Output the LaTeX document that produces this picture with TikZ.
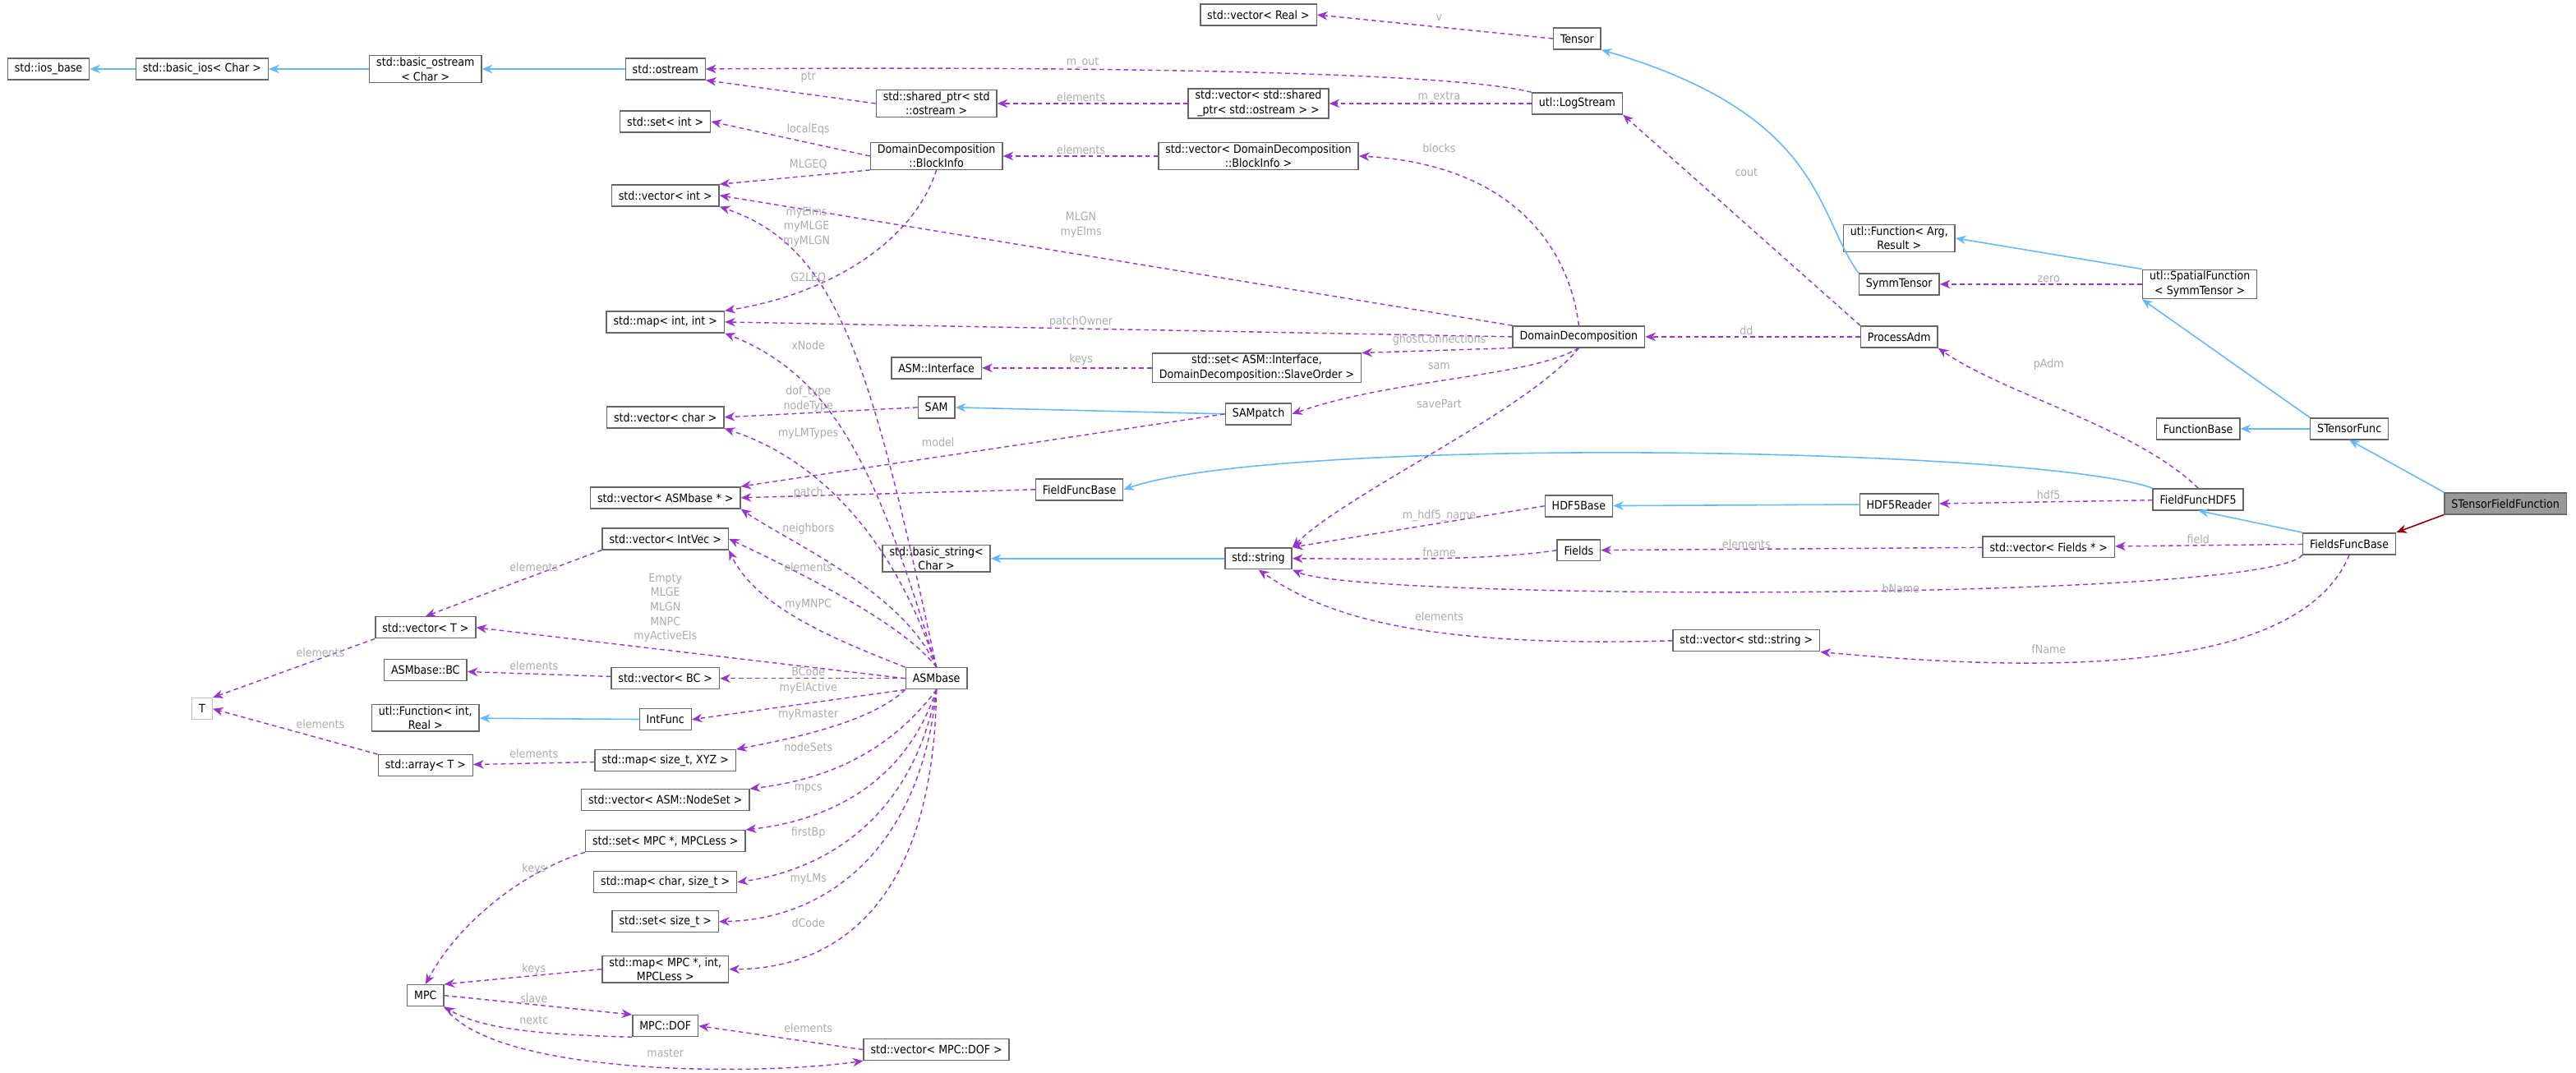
\documentclass[tikz,border=0pt]{standalone}
\usepackage{fontspec}
\setmainfont{DejaVu Sans Condensed}
\usetikzlibrary{arrows.meta}
\definecolor{member}{HTML}{9A32CD}
\definecolor{inherit}{HTML}{63B8FF}
\definecolor{lblgrey}{HTML}{ABABAB}
\tikzset{
  box/.style={draw=black!60, fill=white, line width=0.4pt, inner xsep=2.4pt, inner ysep=0.6pt,
    minimum height=0.26cm, align=center, font=\fontsize{4.0}{5.0}\selectfont},
  lbl/.style={text=lblgrey, align=center, inner sep=0pt, font=\fontsize{4.0}{5.0}\selectfont},
  mem/.style={draw=member, dash pattern=on 1.6pt off 1.2pt, line width=0.4pt,
    -{Stealth[length=3.6pt,width=3pt]}},
  inh/.style={draw=inherit, line width=0.45pt, -{Stealth[length=3.6pt,width=3pt]}},
  red/.style={draw=red!55!black, line width=0.45pt, -{Stealth[length=3.6pt,width=3pt]}}
}
\begin{document}
\begin{tikzpicture}[x=0.02cm, y=-0.02cm]
  \useasboundingbox (0,0) rectangle (1568,653);
  % left column
  \node[box] (iosbase) at (29.5,42) {std::ios\_base};
  \node[box] (basicios) at (123,42) {std::basic\_ios\textless{} Char \textgreater{}};
  \node[box] (basicostream) at (259,42) {std::basic\_ostream\\\textless{} Char \textgreater{}};
  \node[box] (ostream) at (405,42) {std::ostream};
  \node[box] (setint) at (405,74) {std::set\textless{} int \textgreater{}};
  \node[box] (vecint) at (405,119) {std::vector\textless{} int \textgreater{}};
  \node[box] (mapint) at (405,196) {std::map\textless{} int, int \textgreater{}};
  \node[box] (vecchar) at (405,254) {std::vector\textless{} char \textgreater{}};
  \node[box] (vecasm) at (405,303) {std::vector\textless{} ASMbase * \textgreater{}};
  \node[box] (vecintvec) at (405,328) {std::vector\textless{} IntVec \textgreater{}};
  \node[box] (vect) at (259,382) {std::vector\textless{} T \textgreater{}};
  \node[box] (asmbc) at (259,408) {ASMbase::BC};
  \node[box, draw=black!25] (T) at (123,431.5) {T};
  \node[box] (funcint) at (259,437) {utl::Function\textless{} int,\\Real \textgreater{}};
  \node[box] (arrt) at (259,466) {std::array\textless{} T \textgreater{}};
  \node[box] (vecbc) at (405,413) {std::vector\textless{} BC \textgreater{}};
  \node[box] (intfunc) at (405,438) {IntFunc};
  \node[box] (mapxyz) at (405,463) {std::map\textless{} size\_t, XYZ \textgreater{}};
  \node[box] (vecnodeset) at (405,487) {std::vector\textless{} ASM::NodeSet \textgreater{}};
  \node[box] (setmpc) at (405,512) {std::set\textless{} MPC *, MPCLess \textgreater{}};
  \node[box] (mapchar) at (405,537) {std::map\textless{} char, size\_t \textgreater{}};
  \node[box] (setsize) at (405,561) {std::set\textless{} size\_t \textgreater{}};
  \node[box] (mapmpc) at (405,590) {std::map\textless{} MPC *, int,\\MPCLess \textgreater{}};
  \node[box] (mpc) at (259,606) {MPC};
  \node[box] (mpcdof) at (405,624.5) {MPC::DOF};
  \node[box] (vecmpcdof) at (570,639) {std::vector\textless{} MPC::DOF \textgreater{}};
  % middle column
  \node[box] (sharedptr) at (570,63) {std::shared\_ptr\textless{} std\\::ostream \textgreater{}};
  \node[box] (blockinfo) at (570,95) {DomainDecomposition\\::BlockInfo};
  \node[box] (asminterface) at (570,224) {ASM::Interface};
  \node[box] (sam) at (570,248) {SAM};
  \node[box] (asmbase) at (570,413) {ASMbase};
  \node[box] (basicstring) at (570,340) {std::basic\_string\textless{}\\Char \textgreater{}};
  \node[box] (vecreal) at (766,9) {std::vector\textless{} Real \textgreater{}};
  \node[box] (vecshared) at (766,63) {std::vector\textless{} std::shared\\\_ptr\textless{} std::ostream \textgreater{} \textgreater{}};
  \node[box] (vecblockinfo) at (766,95) {std::vector\textless{} DomainDecomposition\\::BlockInfo \textgreater{}};
  \node[box] (setinterface) at (765,224) {std::set\textless{} ASM::Interface,\\DomainDecomposition::SlaveOrder \textgreater{}};
  \node[box] (sampatch) at (766,252) {SAMpatch};
  \node[box] (ffbase) at (657,298) {FieldFuncBase};
  \node[box] (string) at (766,340) {std::string};
  \node[box] (tensor) at (960,23.5) {Tensor};
  \node[box] (logstream) at (960,63) {utl::LogStream};
  \node[box] (dd) at (961,205) {DomainDecomposition};
  \node[box] (hdf5base) at (961,308) {HDF5Base};
  \node[box] (fields) at (961,335) {Fields};
  \node[box] (vecstring) at (1063,390) {std::vector\textless{} std::string \textgreater{}};
  % right column
  \node[box] (funcarg) at (1156,145) {utl::Function\textless{} Arg,\\Result \textgreater{}};
  \node[box] (symmtensor) at (1156,173) {SymmTensor};
  \node[box] (procadm) at (1156,205) {ProcessAdm};
  \node[box] (hdf5reader) at (1156,307) {HDF5Reader};
  \node[box] (vecfields) at (1247,333) {std::vector\textless{} Fields * \textgreater{}};
  \node[box] (spatial) at (1339,173) {utl::SpatialFunction\\\textless{} SymmTensor \textgreater{}};
  \node[box] (funcbase) at (1338,261) {FunctionBase};
  \node[box] (ffhdf5) at (1338,304) {FieldFuncHDF5};
  \node[box] (stensorfunc) at (1430,261) {STensorFunc};
  \node[box] (ffsbase) at (1430,331) {FieldsFuncBase};
  \node[box, fill=black!40] (stff) at (1525,306.5) {STensorFieldFunction};
  % inheritance
  \draw[inh] (basicios) -- (iosbase);
  \draw[inh] (basicostream) -- (basicios);
  \draw[inh] (ostream) -- (basicostream);
  \draw[inh] (intfunc) -- (funcint);
  \draw[inh] (sampatch.west) -- (sam.east);
  \draw[inh] (string) -- (basicstring);
  \draw[inh] (hdf5reader) -- (hdf5base);
  \draw[inh] (symmtensor.north west) .. controls (1105,130) and (1110,70) .. (tensor.south east);
  \draw[inh] (spatial.north west) -- (funcarg.east);
  \draw[inh] (stensorfunc.north west) -- (spatial.south west);
  \draw[inh] (stensorfunc) -- (funcbase);
  \draw[inh] (stff.north west) -- (stensorfunc.south);
  \draw[inh] (ffsbase.north west) -- (ffhdf5.south);
  \draw[inh] (ffhdf5.north west) .. controls (1240,272) and (780,265) .. (ffbase.east);
  \draw[red] (stff.south west) -- (ffsbase.north east);
  % members
  \draw[mem] (tensor.west) -- (vecreal.east);
  \node[lbl] (lv) at (876,11) {v};
  \draw[mem] (logstream.north west) .. controls (890,45) and (700,40) .. (ostream.east);
  \node[lbl] (lmout) at (659,38) {m\_out};
  \draw[mem] (logstream) -- (vecshared);
  \node[lbl] (lmextra) at (876,59) {m\_extra};
  \draw[mem] (vecshared) -- (sharedptr);
  \node[lbl] (lel1) at (658,59) {elements};
  \draw[mem] (sharedptr.west) -- (ostream.south east);
  \node[lbl] (lptr) at (492,47) {ptr};
  \draw[mem] (blockinfo.west) -- (setint.east);
  \node[lbl] (llocaleqs) at (492,79) {localEqs};
  \draw[mem] (blockinfo.south west) -- (vecint.north east);
  \node[lbl] (lmlgeq) at (492,100) {MLGEQ};
  \draw[mem] (blockinfo.south) .. controls (555,150) and (500,180) .. (mapint.north east);
  \node[lbl] (lg2leq) at (492,169) {G2LEQ};
  \draw[mem] (vecblockinfo) -- (blockinfo);
  \node[lbl] (lel2) at (658,91) {elements};
  \draw[mem] (dd.north) .. controls (955,150) and (920,100) .. (vecblockinfo.east);
  \node[lbl] (lblocks) at (876,90) {blocks};
  \draw[mem] (dd.north west) -- (vecint.east);
  \node[lbl] (lmlgn) at (658,137) {MLGN\\myElms};
  \draw[mem] (dd.west) -- (mapint.east);
  \node[lbl] (lpatchowner) at (658,196) {patchOwner};
  \draw[mem] (dd.south west) -- (setinterface.north east);
  \node[lbl] (lghost) at (876,207) {ghostConnections};
  \draw[mem] (dd.south) .. controls (930,230) and (850,230) .. (sampatch.east);
  \node[lbl] (lsam) at (876,223) {sam};
  \draw[mem] (dd.south) .. controls (930,250) and (820,300) .. (string.north east);
  \node[lbl] (lsavepart) at (876,246) {savePart};
  \draw[mem] (setinterface) -- (asminterface);
  \node[lbl] (lkeys1) at (658,219) {keys};
  \draw[mem] (procadm) -- (dd);
  \node[lbl] (ldd) at (1063,201) {dd};
  \draw[mem] (procadm.north west) -- (logstream.south east);
  \node[lbl] (lcout) at (1063,105) {cout};
  \draw[mem] (spatial) -- (symmtensor);
  \node[lbl] (lzero) at (1247,170) {zero};
  \draw[mem] (ffhdf5.north) .. controls (1300,260) and (1220,240) .. (procadm.south east);
  \node[lbl] (lpadm) at (1247,222) {pAdm};
  \draw[mem] (ffhdf5) -- (hdf5reader);
  \node[lbl] (lhdf5) at (1247,301) {hdf5};
  \draw[mem] (hdf5base.west) -- (string.north east);
  \node[lbl] (lhdf5name) at (876,314) {m\_hdf5\_name};
  \draw[mem] (fields.west) .. controls (900,342) and (830,340) .. (string.east);
  \node[lbl] (lfname) at (876,336) {fname};
  \draw[mem] (vecfields) -- (fields);
  \node[lbl] (lel3) at (1063,331) {elements};
  \draw[mem] (ffsbase) -- (vecfields);
  \node[lbl] (lfield) at (1338,328) {field};
  \draw[mem] (ffsbase.south west) .. controls (1380,366) and (830,366) .. (string.south east);
  \node[lbl] (lbname) at (1157,358) {bName};
  \draw[mem] (ffsbase.south) .. controls (1400,410) and (1250,410) .. (vecstring.south east);
  \node[lbl] (lfname2) at (1247,395) {fName};
  \draw[mem] (vecstring.west) .. controls (850,395) and (800,370) .. (string.south);
  \node[lbl] (lel4) at (876,375) {elements};
  \draw[mem] (sam.west) -- (vecchar.east);
  \node[lbl] (ldoftype) at (492,243) {dof\_type\\nodeType};
  \draw[mem] (sampatch.west) -- (vecasm.north east);
  \node[lbl] (lmodel) at (571,269) {model};
  \draw[mem] (ffbase.west) -- (vecasm.east);
  \node[lbl] (lpatch) at (492,300) {patch};
  % ASMbase members
  \draw[mem] (asmbase.north) .. controls (530,220) and (510,150) .. (vecint.south east);
  \node[lbl] (lmyelms) at (491,138) {myElms\\myMLGE\\myMLGN};
  \draw[mem] (asmbase.north) .. controls (535,290) and (510,230) .. (mapint.south east);
  \node[lbl] (lxnode) at (492,210) {xNode};
  \draw[mem] (asmbase.north) .. controls (545,330) and (500,280) .. (vecchar.south east);
  \node[lbl] (lmylmtypes) at (492,264) {myLMTypes};
  \draw[mem] (asmbase.north) .. controls (550,360) and (480,330) .. (vecasm.south east);
  \node[lbl] (lneighbors) at (492,322) {neighbors};
  \draw[mem] (asmbase.north) .. controls (550,380) and (490,350) .. (vecintvec.east);
  \node[lbl] (lel5) at (492,345) {elements};
  \draw[mem] (asmbase.north west) .. controls (510,390) and (460,370) .. (vecintvec.south east);
  \node[lbl] (lmymnpc) at (492,368) {myMNPC};
  \draw[mem] (asmbase.west) -- (vect.east);
  \node[lbl] (lempty) at (405,370) {Empty\\MLGE\\MLGN\\MNPC\\myActiveEls};
  \draw[mem] (asmbase) -- (vecbc);
  \node[lbl] (lbcode) at (492,409) {BCode};
  \draw[mem] (asmbase.south west) -- (intfunc.east);
  \node[lbl] (lmyelactive) at (492,419) {myElActive};
  \draw[mem] (asmbase.south west) .. controls (530,440) and (480,450) .. (mapxyz.north east);
  \node[lbl] (lmyrmaster) at (492,435) {myRmaster};
  \draw[mem] (asmbase.south) .. controls (540,460) and (500,475) .. (vecnodeset.north east);
  \node[lbl] (lnodesets) at (492,455) {nodeSets};
  \draw[mem] (asmbase.south) .. controls (550,480) and (500,500) .. (setmpc.north east);
  \node[lbl] (lmpcs) at (492,480) {mpcs};
  \draw[mem] (asmbase.south) .. controls (555,500) and (500,530) .. (mapchar.east);
  \node[lbl] (lfirstbp) at (492,507) {firstBp};
  \draw[mem] (asmbase.south) .. controls (560,520) and (500,560) .. (setsize.east);
  \node[lbl] (lmylms) at (492,535) {myLMs};
  \draw[mem] (asmbase.south) .. controls (568,560) and (500,590) .. (mapmpc.east);
  \node[lbl] (ldcode) at (492,562) {dCode};
  \draw[mem] (vecintvec.south west) -- (vect.north);
  \node[lbl] (lel6) at (325,345) {elements};
  \draw[mem] (vect.south west) -- (T.north east);
  \node[lbl] (lel7) at (195,397) {elements};
  \draw[mem] (arrt.north west) -- (T.east);
  \node[lbl] (lel8) at (195,441) {elements};
  \draw[mem] (mapxyz) -- (arrt);
  \node[lbl] (lel9) at (325,459) {elements};
  \draw[mem] (vecbc) -- (asmbc);
  \node[lbl] (lel10) at (325,405) {elements};
  \draw[mem] (setmpc.south west) .. controls (320,530) and (280,560) .. (mpc.north);
  \node[lbl] (lkeys2) at (325,529) {keys};
  \draw[mem] (mapmpc.west) -- (mpc.north east);
  \node[lbl] (lkeys3) at (325,590) {keys};
  \draw[mem] (mpc.east) -- (mpcdof.north west);
  \node[lbl] (lslave) at (325,608) {slave};
  \draw[mem] (mpcdof.south west) .. controls (340,630) and (295,628) .. (mpc.south east);
  \node[lbl] (lnextc) at (325,621) {nextc};
  \draw[mem] (mpc.south east) .. controls (300,655) and (460,655) .. (vecmpcdof.south west);
  \node[lbl] (lmaster) at (405,641) {master};
  \draw[mem] (vecmpcdof.west) -- (mpcdof.east);
  \node[lbl] (lel11) at (492,626) {elements};
\end{tikzpicture}
\end{document}
